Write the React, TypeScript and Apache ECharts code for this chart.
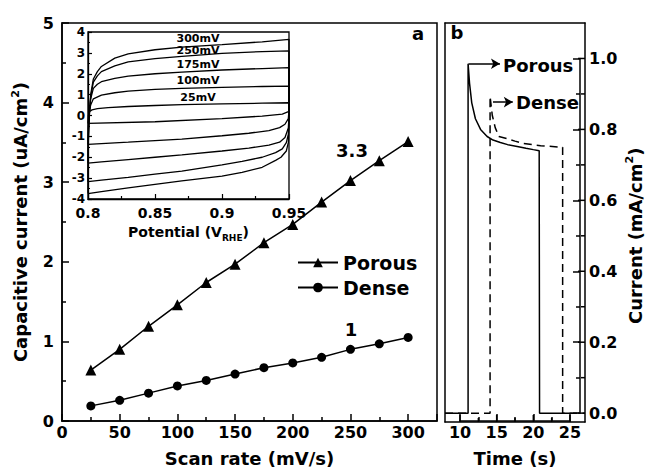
import React, { useEffect, useRef } from "react";
import * as echarts from "echarts";

// Panel a: capacitive current vs scan rate
const scanRates = [25, 50, 75, 100, 125, 150, 175, 200, 225, 250, 275, 300];
const porousCurrent = [0.64, 0.9, 1.19, 1.46, 1.74, 1.97, 2.24, 2.47, 2.75, 3.02, 3.27, 3.51];
const denseCurrent = [0.19, 0.26, 0.35, 0.44, 0.51, 0.59, 0.67, 0.73, 0.8, 0.9, 0.97, 1.05];

// Inset: cyclic voltammograms [potential V_RHE, current]
const cv25: number[][] = [
  [0.8, -0.38], [0.8003, 0.0], [0.801, 0.18], [0.803, 0.27], [0.807, 0.33], [0.815, 0.38], [0.83, 0.43],
  [0.85, 0.48], [0.87, 0.52], [0.9, 0.56], [0.93, 0.59], [0.95, 0.61],
  [0.95, 0.2], [0.945, 0.07], [0.93, -0.03], [0.9, -0.15], [0.85, -0.3], [0.8, -0.38],
];
const cv100: number[][] = [
  [0.8, -1.38], [0.8003, -0.3], [0.801, 0.2], [0.802, 0.5], [0.804, 0.8], [0.81, 0.98], [0.82, 1.09],
  [0.83, 1.17], [0.85, 1.25], [0.87, 1.3], [0.9, 1.35], [0.93, 1.39], [0.95, 1.41],
  [0.95, 0.3], [0.9495, -0.15], [0.947, -0.42], [0.943, -0.58], [0.935, -0.72], [0.92, -0.85],
  [0.9, -0.97], [0.87, -1.13], [0.85, -1.2], [0.83, -1.28], [0.8, -1.38],
];
const cv175: number[][] = [
  [0.8, -2.28], [0.8003, -0.6], [0.801, 0.2], [0.802, 0.8], [0.804, 1.3], [0.807, 1.5], [0.81, 1.62],
  [0.82, 1.78], [0.83, 1.89], [0.85, 2.0], [0.87, 2.08], [0.9, 2.18], [0.93, 2.25], [0.95, 2.29],
  [0.95, 0.0], [0.9495, -0.6], [0.947, -1.05], [0.943, -1.28], [0.935, -1.42], [0.92, -1.56],
  [0.9, -1.7], [0.87, -1.89], [0.85, -2.0], [0.83, -2.11], [0.81, -2.22], [0.8, -2.28],
];
const cv250: number[][] = [
  [0.8, -3.17], [0.8003, -1.0], [0.801, 0.0], [0.802, 0.9], [0.804, 1.6], [0.807, 1.9], [0.81, 2.1],
  [0.82, 2.38], [0.83, 2.57], [0.85, 2.72], [0.87, 2.83], [0.9, 2.98], [0.93, 3.06], [0.95, 3.1],
  [0.95, -0.2], [0.9495, -0.9], [0.948, -1.3], [0.945, -1.6], [0.94, -1.78], [0.93, -2.0],
  [0.915, -2.2], [0.9, -2.37], [0.87, -2.66], [0.85, -2.81], [0.83, -2.96], [0.81, -3.1], [0.8, -3.17],
];
const cv300: number[][] = [
  [0.8, -3.74], [0.8003, -1.2], [0.801, 0.0], [0.802, 1.0], [0.804, 1.75], [0.807, 2.1], [0.81, 2.35],
  [0.82, 2.75], [0.83, 2.95], [0.85, 3.15], [0.87, 3.28], [0.9, 3.4], [0.93, 3.53], [0.95, 3.65],
  [0.95, -0.5], [0.9495, -1.3], [0.948, -1.7], [0.944, -2.0], [0.94, -2.15], [0.93, -2.48],
  [0.915, -2.72], [0.9, -2.9], [0.87, -3.13], [0.85, -3.3], [0.83, -3.47], [0.81, -3.65], [0.8, -3.74],
];
const cvLabels = ["300mV", "250mV", "175mV", "100mV", "25mV"];

// Panel b: chronoamperometry
const porousTime = [7.95, 11.1, 11.1, 11.3, 11.6, 12.1, 12.8, 13.7, 14.5, 15.5, 16.5, 17.8, 19, 20, 20.8, 20.85, 25.4];
const porousI = [0, 0, 0.985, 0.93, 0.875, 0.83, 0.8, 0.78, 0.77, 0.763, 0.757, 0.752, 0.747, 0.743, 0.74, 0, 0];
const denseTime = [7.95, 14.1, 14.1, 14.4, 14.8, 15.3, 16.4, 17.5, 18.7, 21, 23.7, 24.0, 24.0, 27.05];
const denseI = [0, 0, 0.893, 0.84, 0.805, 0.78, 0.774, 0.767, 0.76, 0.754, 0.75, 0.75, 0, 0];

// Panel b axis ranges and ticks
const timeRange = [7.95, 27.05];
const timeTickRange = [10, 25];
const currentRange = [-0.025, 1.1];
const currentTickRange = [0, 1.0];
const timeTicks = [10, 15, 20, 25];
const timeMinorTicks = [12.5, 17.5, 22.5];
const currentTicks = [0, 0.2, 0.4, 0.6, 0.8, 1.0];
const currentMinorTicks = [0.1, 0.3, 0.5, 0.7, 0.9];

const FONT = "DejaVu Sans";
const K = "#000";

export default function App() {
  const ref = useRef<HTMLDivElement>(null);
  useEffect(() => {
    if (!ref.current) return;
    const chart = echarts.init(ref.current, undefined, { renderer: "svg" });
    const lineS = { color: K, width: 1.5 };
    const axisLine = { show: true, onZero: false, lineStyle: lineS };
    const lbl = (size: number, margin: number, extra: any = {}) => ({
      fontSize: size, fontWeight: "bold", fontFamily: FONT, color: K, margin, ...extra,
    });
    const nameStyle = (size: number, extra: any = {}) => ({
      fontSize: size, fontWeight: "bold", fontFamily: FONT, color: K, ...extra,
    });
    const supRich = { sup: { fontSize: 11, fontWeight: "bold", fontFamily: FONT, color: K, verticalAlign: "top" } };
    const tick = (len: number, w = 1.5) => ({ show: true, inside: true, length: len, lineStyle: { color: K, width: w } });
    const minor = (len: number, w = 1.5) => ({ show: true, splitNumber: 2, length: len, lineStyle: { color: K, width: w } });
    const bare = { axisLine, axisTick: { show: false }, axisLabel: { show: false }, splitLine: { show: false } };
    const hidden = { axisLine: { show: false }, axisTick: { show: false }, axisLabel: { show: false }, splitLine: { show: false } };

    // panel b geometry: data grid plus two label grids sharing the same pixel scale
    const bLeft = 445, bTop = 23, bW = 140, bH = 399;
    const pxT = bW / (timeRange[1] - timeRange[0]);
    const pxI = bH / (currentRange[1] - currentRange[0]);
    const oLeft = bLeft + (timeTickRange[0] - timeRange[0]) * pxT;
    const oW = (timeTickRange[1] - timeTickRange[0]) * pxT;
    const oTop = bTop + (currentRange[1] - currentTickRange[1]) * pxI;
    const oH = (currentTickRange[1] - currentTickRange[0]) * pxI;

    // tick marks of panel b drawn through the panel's own scales
    const xTickData = [...timeTicks.map((t) => [t, 7]), ...timeMinorTicks.map((t) => [t, 4])];
    const yTickData = [...currentTicks.map((v) => [v, 7]), ...currentMinorTicks.map((v) => [v, 4])];
    const xTickSeries = {
      name: "xticks", type: "custom", xAxisIndex: 2, yAxisIndex: 2, silent: true, z: 10,
      data: xTickData,
      renderItem: (_p: any, api: any) => {
        const p = api.coord([api.value(0), currentRange[0]]);
        const len = api.value(1);
        return { type: "line", shape: { x1: p[0], y1: p[1], x2: p[0], y2: p[1] - len }, style: { stroke: K, lineWidth: 1.5 } };
      },
    };
    const yTickSeries = {
      name: "yticks", type: "custom", xAxisIndex: 2, yAxisIndex: 2, silent: true, z: 10,
      data: yTickData,
      renderItem: (_p: any, api: any) => {
        const p = api.coord([timeRange[1], api.value(0)]);
        const len = api.value(1);
        return { type: "line", shape: { x1: p[0], y1: p[1], x2: p[0] - len, y2: p[1] }, style: { stroke: K, lineWidth: 1.5 } };
      },
    };

    const cvSeries = [cv25, cv100, cv175, cv250, cv300].map((d, i) => ({
      name: "cv" + i, type: "line", xAxisIndex: 1, yAxisIndex: 1, data: d, showSymbol: false,
      symbol: "none", lineStyle: { color: K, width: 1.3 }, z: 5,
    }));
    const option: any = {
      animation: false,
      backgroundColor: "#fff",
      textStyle: { fontFamily: FONT },
      grid: [
        { left: 62, top: 23, width: 375, height: 400, show: true, borderColor: K, borderWidth: 1.5 },
        { left: 88, top: 32, width: 201, height: 167, show: true, borderColor: K, borderWidth: 1.3, backgroundColor: "#fff" },
        { left: bLeft, top: bTop, width: bW, height: bH, show: false },
        { left: oLeft, top: bTop, width: oW, height: bH, show: false },
        { left: bLeft, top: oTop, width: bW, height: oH, show: false },
      ],
      legend: {
        data: ["Porous", "Dense"], orient: "vertical", left: 292, top: 248, itemWidth: 40, itemHeight: 12,
        itemGap: 6, selectedMode: false, textStyle: nameStyle(19),
      },
      xAxis: [
        {
          gridIndex: 0, type: "value", min: 0, max: 325, interval: 50, axisLine,
          axisTick: tick(7), minorTick: minor(4),
          axisLabel: lbl(16, 3, { showMaxLabel: false }), splitLine: { show: false },
          name: "Scan rate (mV/s)", nameLocation: "middle", nameGap: 28, nameTextStyle: nameStyle(18),
        },
        {
          gridIndex: 1, type: "value", min: 0.8, max: 0.95, interval: 0.05, axisLine: { ...axisLine, lineStyle: { color: K, width: 1.3 } },
          axisTick: tick(5, 1.2), minorTick: minor(3, 1.2),
          axisLabel: lbl(14, 7), splitLine: { show: false },
          name: "Potential (V{sub|RHE})", nameLocation: "middle", nameGap: 23,
          nameTextStyle: nameStyle(14, { lineHeight: 20, rich: { sub: { fontSize: 9, fontWeight: "bold", fontFamily: FONT, color: K, verticalAlign: "bottom" } } }),
        },
        { gridIndex: 2, type: "value", min: timeRange[0], max: timeRange[1], position: "bottom", ...bare },
        {
          gridIndex: 3, type: "value", min: timeTickRange[0], max: timeTickRange[1], interval: 5,
          position: "bottom", axisLine,
          axisTick: tick(7), minorTick: minor(4),
          axisLabel: lbl(16, 3), splitLine: { show: false },
          name: "Time (s)", nameLocation: "middle", nameGap: 28, nameTextStyle: nameStyle(18),
        },
        { gridIndex: 2, type: "value", min: timeRange[0], max: timeRange[1], position: "top", ...bare },
        { gridIndex: 4, type: "value", min: timeRange[0], max: timeRange[1], ...hidden },
      ],
      yAxis: [
        {
          gridIndex: 0, type: "value", min: 0, max: 5, interval: 1, axisLine,
          axisTick: tick(7), minorTick: minor(4),
          axisLabel: lbl(16, 8), splitLine: { show: false },
          name: "Capacitive current (uA/cm{sup|2})", nameLocation: "middle", nameRotate: 90, nameGap: 19,
          nameTextStyle: nameStyle(18, { lineHeight: 22, rich: supRich }),
        },
        {
          gridIndex: 1, type: "value", min: -4, max: 4, interval: 1, axisLine: { ...axisLine, lineStyle: { color: K, width: 1.3 } },
          axisTick: tick(4, 1.2), minorTick: minor(2, 1.2),
          axisLabel: lbl(12, 3), splitLine: { show: false },
        },
        { gridIndex: 2, type: "value", min: currentRange[0], max: currentRange[1], position: "left", ...bare },
        { gridIndex: 3, type: "value", min: currentRange[0], max: currentRange[1], ...hidden },
        {
          gridIndex: 4, type: "value", position: "right", min: currentTickRange[0], max: currentTickRange[1], interval: 0.2,
          axisLine,
          axisTick: tick(7), minorTick: minor(4),
          axisLabel: lbl(16, 9, { formatter: (v: number) => v.toFixed(1) }),
          splitLine: { show: false },
          name: "Current (mA/cm{sup|2})", nameLocation: "middle", nameRotate: 90, nameGap: 44,
          nameTextStyle: nameStyle(18, { lineHeight: 22, rich: supRich }),
        },
        { gridIndex: 2, type: "value", min: currentRange[0], max: currentRange[1], position: "right", ...bare },
      ],
      series: [
        {
          name: "Porous", type: "line", xAxisIndex: 0, yAxisIndex: 0,
          data: scanRates.map((x, i) => [x, porousCurrent[i]]),
          symbol: "triangle", symbolSize: 11, itemStyle: { color: K }, lineStyle: { color: K, width: 1.5 },
        },
        {
          name: "Dense", type: "line", xAxisIndex: 0, yAxisIndex: 0,
          data: scanRates.map((x, i) => [x, denseCurrent[i]]),
          symbol: "circle", symbolSize: 9, itemStyle: { color: K }, lineStyle: { color: K, width: 1.5 },
        },
        ...cvSeries,
        {
          name: "Porous b", type: "line", xAxisIndex: 2, yAxisIndex: 2, symbol: "none",
          data: porousTime.map((t, i) => [t, porousI[i]]), lineStyle: { color: K, width: 1.5 },
          markLine: {
            silent: true, symbol: ["none", "arrow"], symbolSize: [8, 9],
            lineStyle: { color: K, width: 1.5, type: "solid" }, label: { show: false },
            data: [
              [{ coord: [11.15, 0.985] }, { coord: [15.45, 0.985] }],
              [{ coord: [14.5, 0.877] }, { coord: [17.2, 0.877] }],
            ],
          },
        },
        {
          name: "Dense b", type: "line", xAxisIndex: 2, yAxisIndex: 2, symbol: "none",
          data: denseTime.map((t, i) => [t, denseI[i]]), lineStyle: { color: K, width: 1.5, type: [8, 5] },
        },
        xTickSeries,
        yTickSeries,
      ],
      graphic: [
        { type: "text", x: 418, y: 33, style: { text: "a", fontSize: 18, fontWeight: "bold", fontFamily: FONT, fill: K, textAlign: "center", textVerticalAlign: "middle" } },
        { type: "text", x: 457, y: 32, style: { text: "b", fontSize: 18, fontWeight: "bold", fontFamily: FONT, fill: K, textAlign: "center", textVerticalAlign: "middle" } },
        { type: "text", x: 352, y: 150, style: { text: "3.3", fontSize: 18, fontWeight: "bold", fontFamily: FONT, fill: K, textAlign: "center", textVerticalAlign: "middle" } },
        { type: "text", x: 351, y: 329, style: { text: "1", fontSize: 18, fontWeight: "bold", fontFamily: FONT, fill: K, textAlign: "center", textVerticalAlign: "middle" } },
        { type: "text", x: 503, y: 65, style: { text: "Porous", fontSize: 18, fontWeight: "bold", fontFamily: FONT, fill: K, textAlign: "left", textVerticalAlign: "middle" } },
        { type: "text", x: 516, y: 102, style: { text: "Dense", fontSize: 18, fontWeight: "bold", fontFamily: FONT, fill: K, textAlign: "left", textVerticalAlign: "middle" } },
        ...cvLabels.map((t, i) => ({
          type: "text", x: 198, y: [38, 50, 64, 80, 97][i], z: 10,
          style: { text: t, fontSize: 11, fontWeight: "bold", fontFamily: FONT, fill: K, textAlign: "center", textVerticalAlign: "middle" },
        })),
      ],
    };
    chart.setOption(option);
    return () => chart.dispose();
  }, []);
  return <div ref={ref} style={{ position: "absolute", left: 0, top: 0, width: 647, height: 472 }} />;
}
